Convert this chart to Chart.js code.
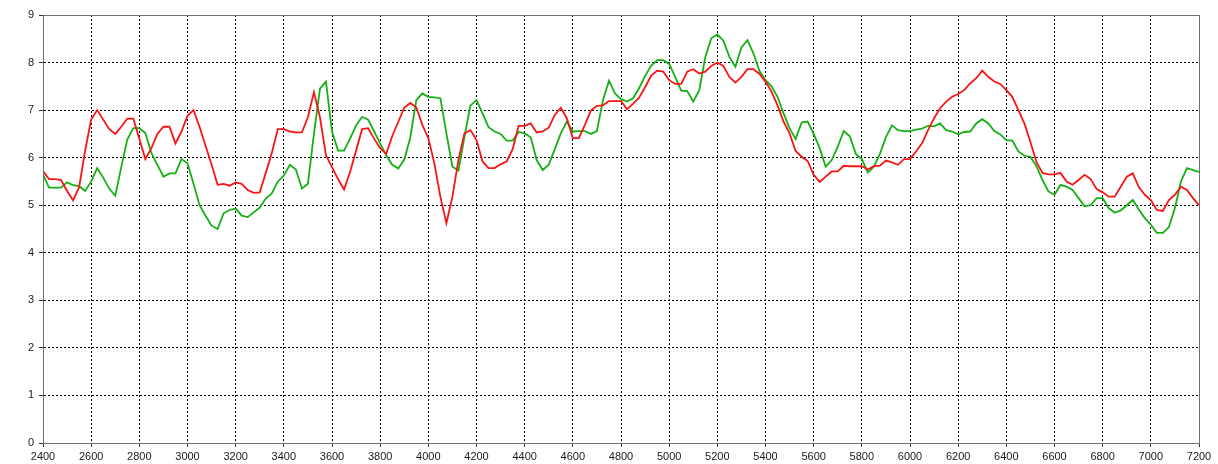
<!DOCTYPE html>
<html>
<head>
<meta charset="utf-8">
<script src="https://cdn.jsdelivr.net/npm/chart.js@4/dist/chart.umd.min.js"></script>
<style>
  html, body { margin: 0; padding: 0; background: #fff; }
  #plot { display: block; }
</style>
</head>
<body>
<canvas id="plot" width="1218" height="464"></canvas>
<script>
// sample spacing along the x axis
const xStart = 2400;
const xStep = 25;

const redValues = [
    5.72, 5.55, 5.55, 5.53, 5.30, 5.10, 5.38, 6.15,
    6.80, 7.00, 6.80, 6.60, 6.50, 6.65, 6.82, 6.82,
    6.40, 5.97, 6.20, 6.50, 6.65, 6.65, 6.30, 6.55,
    6.88, 7.00, 6.65, 6.25, 5.85, 5.43, 5.45, 5.41,
    5.48, 5.45, 5.32, 5.26, 5.27, 5.68, 6.10, 6.60,
    6.60, 6.55, 6.53, 6.53, 6.85, 7.38, 6.85, 6.05,
    5.80, 5.55, 5.33, 5.70, 6.15, 6.60, 6.62, 6.40,
    6.20, 6.08, 6.45, 6.75, 7.05, 7.15, 7.06, 6.69,
    6.41, 5.88, 5.18, 4.62, 5.18, 5.95, 6.51, 6.58,
    6.37, 5.92, 5.78, 5.78, 5.86, 5.92, 6.18, 6.67,
    6.67, 6.72, 6.53, 6.55, 6.63, 6.90, 7.05, 6.83,
    6.41, 6.41, 6.69, 6.99, 7.09, 7.10, 7.19, 7.19,
    7.19, 7.02, 7.13, 7.26, 7.48, 7.72, 7.83, 7.81,
    7.63, 7.55, 7.55, 7.81, 7.86, 7.77, 7.81, 7.93,
    8.00, 7.93, 7.70, 7.58, 7.70, 7.86, 7.86, 7.76,
    7.60, 7.39, 7.10, 6.76, 6.51, 6.14, 6.02, 5.93,
    5.64, 5.49, 5.60, 5.71, 5.71, 5.83, 5.82, 5.82,
    5.82, 5.75, 5.82, 5.83, 5.94, 5.90, 5.85, 5.97,
    5.97, 6.13, 6.30, 6.58, 6.83, 7.04, 7.18, 7.28,
    7.34, 7.42, 7.56, 7.67, 7.83, 7.70, 7.60, 7.55,
    7.42, 7.28, 7.00, 6.72, 6.33, 5.91, 5.68, 5.65,
    5.65, 5.68, 5.50, 5.43, 5.53, 5.64, 5.55, 5.34,
    5.27, 5.18, 5.18, 5.39, 5.60, 5.67, 5.38, 5.22,
    5.11, 4.90, 4.88, 5.11, 5.22, 5.39, 5.32, 5.15,
    5.00
];

const greenValues = [
    5.65, 5.37, 5.37, 5.37, 5.48, 5.42, 5.40, 5.30,
    5.50, 5.78, 5.58, 5.35, 5.20, 5.80, 6.38, 6.62,
    6.62, 6.52, 6.10, 5.85, 5.60, 5.67, 5.67, 5.97,
    5.88, 5.45, 5.00, 4.78, 4.57, 4.50, 4.83, 4.90,
    4.93, 4.78, 4.75, 4.85, 4.95, 5.14, 5.25, 5.50,
    5.62, 5.85, 5.75, 5.35, 5.45, 6.50, 7.45, 7.60,
    6.55, 6.15, 6.15, 6.40, 6.68, 6.86, 6.80, 6.55,
    6.30, 6.05, 5.85, 5.77, 5.96, 6.42, 7.21, 7.35,
    7.28, 7.27, 7.25, 6.51, 5.81, 5.73, 6.44, 7.10,
    7.21, 6.93, 6.64, 6.55, 6.50, 6.36, 6.36, 6.54,
    6.51, 6.43, 5.95, 5.74, 5.85, 6.18, 6.51, 6.76,
    6.55, 6.56, 6.56, 6.50, 6.56, 7.21, 7.62, 7.35,
    7.23, 7.18, 7.25, 7.46, 7.72, 7.93, 8.05, 8.05,
    7.97, 7.70, 7.41, 7.40, 7.18, 7.42, 8.12, 8.51,
    8.59, 8.46, 8.12, 7.91, 8.32, 8.47, 8.19, 7.82,
    7.63, 7.50, 7.28, 6.93, 6.62, 6.39, 6.74, 6.76,
    6.50, 6.20, 5.81, 5.95, 6.23, 6.56, 6.45, 6.08,
    5.97, 5.69, 5.81, 6.08, 6.43, 6.68, 6.58, 6.56,
    6.56, 6.59, 6.61, 6.67, 6.66, 6.72, 6.58, 6.55,
    6.49, 6.54, 6.55, 6.72, 6.81, 6.72, 6.56, 6.49,
    6.37, 6.36, 6.13, 6.04, 6.02, 5.82, 5.53, 5.29,
    5.22, 5.43, 5.39, 5.32, 5.15, 4.98, 5.00, 5.15,
    5.15, 4.94, 4.84, 4.89, 5.00, 5.11, 4.91, 4.73,
    4.59, 4.42, 4.42, 4.54, 4.94, 5.50, 5.78, 5.74,
    5.70
];

const xTicks = [2400, 2600, 2800, 3000, 3200, 3400, 3600, 3800, 4000, 4200, 4400, 4600,
                4800, 5000, 5200, 5400, 5600, 5800, 6000, 6200, 6400, 6600, 6800, 7000, 7200];
const yTicks = [0, 1, 2, 3, 4, 5, 6, 7, 8, 9];

const toPoints = vals => vals.map((v, i) => ({ x: xStart + i * xStep, y: v }));

const tickFont = { family: 'Liberation Sans, Arial, sans-serif', size: 11 };

// outline round the plot area
const frame = {
    id: 'frame',
    afterDraw(chart) {
        const { ctx, chartArea: a } = chart;
        ctx.save();
        ctx.strokeStyle = '#707070';
        ctx.lineWidth = 1;
        ctx.strokeRect(a.left + 0.5, a.top + 0.5, a.right - a.left, a.bottom - a.top);
        ctx.restore();
    }
};

const ctx = document.getElementById('plot').getContext('2d');
const chart = new Chart(ctx, {
    type: 'line',
    data: {
        datasets: [{
            label: 'red',
            data: toPoints(redValues),
            borderColor: 'rgb(250, 20, 20)',
            borderWidth: 1.8,
            pointRadius: 0,
            tension: 0,
            fill: false
        }, {
            label: 'green',
            data: toPoints(greenValues),
            borderColor: 'rgb(20, 176, 20)',
            borderWidth: 1.8,
            pointRadius: 0,
            tension: 0,
            fill: false
        }]
    },
    options: {
        responsive: false,
        animation: false,
        layout: { padding: { top: 15, right: 19, left: 0, bottom: 0 } },
        plugins: {
            legend: { display: false },
            tooltip: { enabled: false }
        },
        scales: {
            x: {
                type: 'linear',
                min: xTicks[0],
                max: xTicks[xTicks.length - 1],
                afterBuildTicks: s => { s.ticks = xTicks.map(v => ({ value: v })); },
                afterFit: s => { s.height = 21; },
                ticks: {
                    font: tickFont, color: '#1a1a1a', padding: 3, maxRotation: 0, autoSkip: false,
                    callback: v => String(v)
                },
                grid: { color: '#000', lineWidth: 1, tickLength: 4, tickColor: '#333' },
                border: { display: true, color: '#555', width: 1, dash: [2, 2] }
            },
            y: {
                min: yTicks[0],
                max: yTicks[yTicks.length - 1],
                afterBuildTicks: s => { s.ticks = yTicks.map(v => ({ value: v })); },
                afterFit: s => { s.width = 43; },
                ticks: { font: tickFont, color: '#1a1a1a', padding: 5, callback: v => String(v) },
                grid: { color: '#000', lineWidth: 1, tickLength: 4, tickColor: '#333' },
                border: { display: true, color: '#555', width: 1, dash: [2, 2] }
            }
        }
    },
    plugins: [frame]
});
</script>
</body>
</html>
